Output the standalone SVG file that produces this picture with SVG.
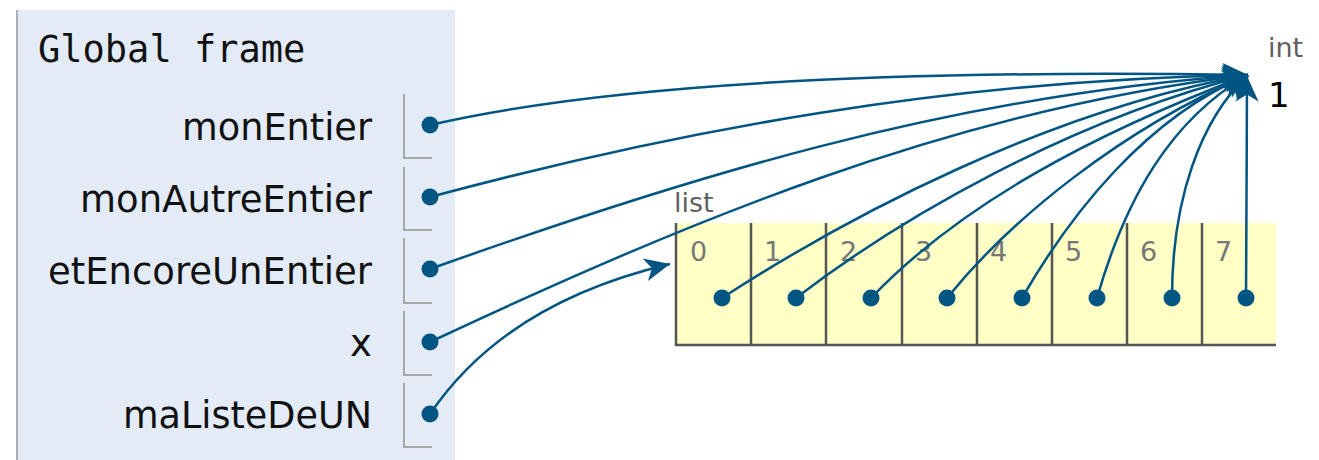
<svg xmlns="http://www.w3.org/2000/svg" width="1319" height="460" viewBox="0 0 1319 460">
<style>
.var{font-family:"DejaVu Sans",Verdana,sans-serif;font-size:37px;fill:#111;text-anchor:end}
.hdr{font-family:"DejaVu Sans Mono","Liberation Mono",monospace;font-size:37px;fill:#111}
.br{fill:none;stroke:#a8a8a8;stroke-width:2}
.dot{fill:#005583}
.idx{font-family:"DejaVu Sans",Verdana,sans-serif;font-size:27px;fill:#777}
.lbl{font-family:"DejaVu Sans",Verdana,sans-serif;font-size:27px;fill:#5f5f5f}
.cell{fill:#ffffc6}
.cl{stroke:#555;stroke-width:2.5;fill:none}
.conn path{fill:none;stroke:#005583;stroke-width:2.5;marker-end:url(#ah)}
</style>
<defs>
<marker id="ah" markerUnits="userSpaceOnUse" markerWidth="30" markerHeight="30" refX="24" refY="11" orient="auto" viewBox="0 0 26 22">
<path d="M24,11 L2,1 L8,11 L2,21 Z" fill="#005583"/>
</marker>
</defs>
<rect width="1319" height="460" fill="#fff"/>
<g id="global-frame">
<rect x="17" y="10" width="438" height="450" fill="#e3ebf6"/>
<line x1="17" y1="10" x2="17" y2="460" stroke="#a8b0b8" stroke-width="2"/>
<text class="hdr" x="38" y="62">Global frame</text>
</g>
<g id="var-monEntier">
<text class="var" x="372" y="140" textLength="190" lengthAdjust="spacingAndGlyphs">monEntier</text>
<path class="br" d="M404,94 V158 H432"/>
<circle class="dot" cx="430" cy="125" r="8.5"/>
</g>
<g id="var-monAutreEntier">
<text class="var" x="372" y="212" textLength="292" lengthAdjust="spacingAndGlyphs">monAutreEntier</text>
<path class="br" d="M404,167 V230 H432"/>
<circle class="dot" cx="430" cy="197" r="8.5"/>
</g>
<g id="var-etEncoreUnEntier">
<text class="var" x="372" y="284" textLength="324" lengthAdjust="spacingAndGlyphs">etEncoreUnEntier</text>
<path class="br" d="M404,238 V303 H432"/>
<circle class="dot" cx="430" cy="269" r="8.5"/>
</g>
<g id="var-x">
<text class="var" x="372" y="356">x</text>
<path class="br" d="M404,311 V375 H432"/>
<circle class="dot" cx="430" cy="342" r="8.5"/>
</g>
<g id="var-maListeDeUN">
<text class="var" x="372" y="428" textLength="249" lengthAdjust="spacingAndGlyphs">maListeDeUN</text>
<path class="br" d="M404,383 V447 H432"/>
<circle class="dot" cx="430" cy="414" r="8.5"/>
</g>
<g id="list-object">
<text class="lbl" x="674" y="212">list</text>
<rect class="cell" x="676" y="223" width="600" height="122"/>
<path class="cl" d="M676,223 V345 H1276"/>
<path class="cl" d="M751,223 V345 M826,223 V345 M902,223 V345 M977,223 V345 M1052,223 V345 M1127,223 V345 M1202,223 V345"/>
<text class="idx" x="690" y="261">0</text>
<text class="idx" x="764" y="261">1</text>
<text class="idx" x="840" y="261">2</text>
<text class="idx" x="915" y="261">3</text>
<text class="idx" x="990" y="261">4</text>
<text class="idx" x="1065" y="261">5</text>
<text class="idx" x="1140" y="261">6</text>
<text class="idx" x="1215" y="261">7</text>
<circle class="dot" cx="722" cy="298" r="8.5"/>
<circle class="dot" cx="796" cy="298" r="8.5"/>
<circle class="dot" cx="871" cy="298" r="8.5"/>
<circle class="dot" cx="947" cy="298" r="8.5"/>
<circle class="dot" cx="1022" cy="298" r="8.5"/>
<circle class="dot" cx="1097" cy="298" r="8.5"/>
<circle class="dot" cx="1172" cy="298" r="8.5"/>
<circle class="dot" cx="1246" cy="298" r="8.5"/>
</g>
<g id="int-object">
<text class="lbl" x="1268" y="57">int</text>
<text x="1268" y="107" font-family="DejaVu Sans,Verdana,sans-serif" font-size="34" fill="#000">1</text>
</g>
<g id="connectors" class="conn">
<path d="M430,125 C560,95 800,68 1248,75"/>
<path d="M430,197 C680,130 950,80 1248,75"/>
<path d="M430,269 C680,180 950,95 1248,75"/>
<path d="M430,342 C680,225 950,110 1248,75"/>
<path d="M430,414 C480,340 560,290 670,264"/>
<path d="M722,298 C850,215 1050,110 1248,75"/>
<path d="M796,298 C900,218 1070,120 1248,75"/>
<path d="M871,298 C960,205 1090,135 1248,75"/>
<path d="M947,298 C1010,220 1120,130 1248,75"/>
<path d="M1022,298 C1070,215 1145,118 1248,75"/>
<path d="M1097,298 C1125,200 1170,120 1248,75"/>
<path d="M1172,298 C1172,200 1200,120 1248,75"/>
<path d="M1246,298 C1246,220 1247,150 1247,76"/>
</g>
</svg>
